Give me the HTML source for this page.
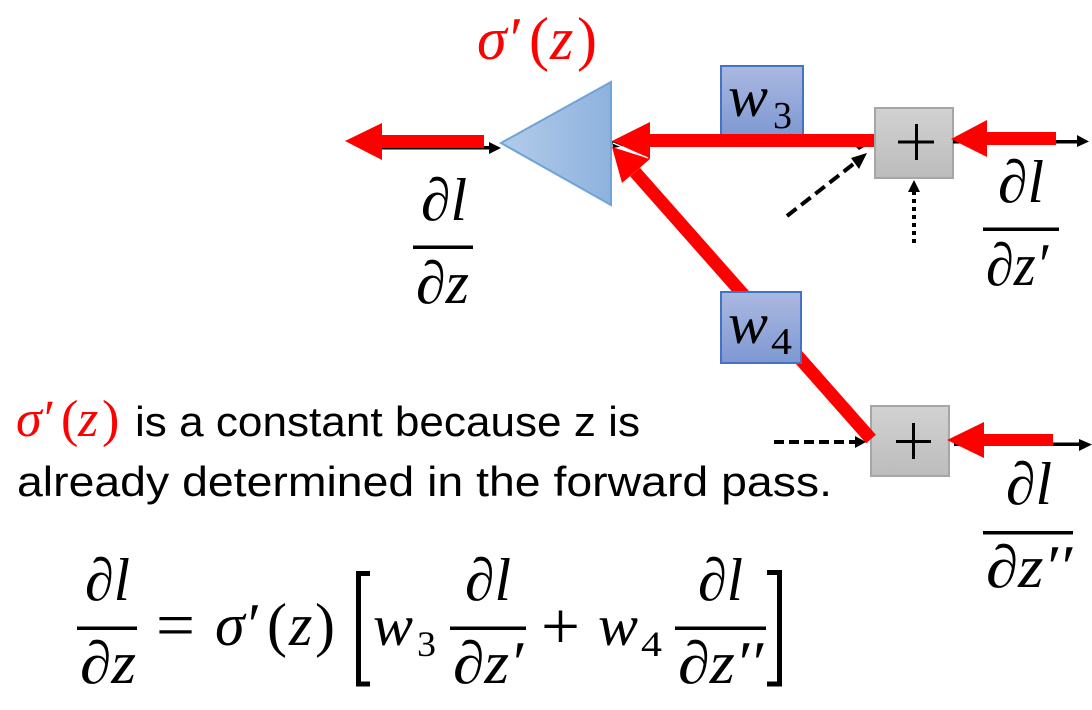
<!DOCTYPE html>
<html><head><meta charset="utf-8"><style>
html,body{margin:0;padding:0;background:#fff}
svg{display:block}
.m{font-family:"Liberation Serif",serif;font-style:italic;fill:#000}
.r{font-family:"Liberation Serif",serif;fill:#000}
.s{font-family:"Liberation Sans",sans-serif;fill:#000;font-size:42px}
.red{fill:#f00}
</style></head><body>
<svg width="1092" height="710" viewBox="0 0 1092 710" xmlns="http://www.w3.org/2000/svg">
<defs>
<linearGradient id="tri" x1="0" x2="1" y1="0" y2="0"><stop offset="0" stop-color="#b3cbe9"/><stop offset="1" stop-color="#8eb2de"/></linearGradient>
<linearGradient id="wb" x1="0" x2="0" y1="0" y2="1"><stop offset="0" stop-color="#abb9e1"/><stop offset="1" stop-color="#7e98d2"/></linearGradient>
<linearGradient id="gb" x1="0" x2="0" y1="0" y2="1"><stop offset="0" stop-color="#d2d2d2"/><stop offset="1" stop-color="#bcbcbc"/></linearGradient>
</defs>

<!-- top-left output arrows -->
<rect x="382" y="146" width="108" height="3.5" fill="#000"/>
<polygon points="501,148 489,142 489,154" fill="#000"/>
<polygon points="345,141 382,123 382,160" fill="#f00"/>
<rect x="381" y="135" width="103" height="13" fill="#f00"/>

<!-- triangle -->
<polygon points="501,143 611,82 611,205" fill="url(#tri)" stroke="#6ea4d8" stroke-width="2"/>

<!-- sigma label -->
<text class="m red" x="477" y="59" font-size="60" style="fill:#f00">σ</text>
<text class="r red" x="510" y="59" font-size="60" style="fill:#f00">′</text>
<text class="r red" x="529" y="59" font-size="60" style="fill:#f00">(</text>
<text class="m red" x="550" y="59" font-size="60" style="fill:#f00">z</text>
<text class="r red" x="577" y="59" font-size="60" style="fill:#f00">)</text>

<!-- w3 -->
<rect x="721" y="66" width="82" height="70" fill="url(#wb)" stroke="#4472c4" stroke-width="2"/>
<text class="m" x="728" y="116" font-size="58" textLength="40" lengthAdjust="spacingAndGlyphs">w</text>
<text class="r" x="773" y="128" font-size="38" textLength="19" lengthAdjust="spacingAndGlyphs">3</text>

<polygon points="612,141 625,146 613,148" fill="#000"/>
<!-- w3 red arrow -->
<polygon points="612,141 650,122 650,159" fill="#f00"/>
<rect x="649" y="134" width="226" height="13" fill="#f00"/>

<!-- diagonal red head -->
<polygon points="612,147 650,159 622,183" fill="#f00"/>
<line x1="613" y1="143" x2="648" y2="158" stroke="#fff" stroke-width="1.3"/>

<!-- plus box 1 -->
<rect x="875" y="108" width="78" height="70" fill="url(#gb)" stroke="#a6a6a6" stroke-width="2"/>
<rect x="898" y="140.500" width="36" height="3" fill="#000"/>
<rect x="915" y="124" width="3" height="36" fill="#000"/>
<!-- right arrow 1 -->
<rect x="953" y="140" width="126" height="3.500" fill="#000"/>
<polygon points="1089,141.500 1077,135 1077,147" fill="#000"/>
<polygon points="951,139 987,120 987,157" fill="#f00"/>
<rect x="986" y="132" width="70" height="13" fill="#f00"/>

<!-- dashed and dotted inputs -->
<line x1="787" y1="216" x2="856" y2="162" stroke="#000" stroke-width="4" stroke-dasharray="12,6"/>
<polygon points="867,153 851,158 859,169" fill="#000"/>
<polygon points="856,147 864,147 859,150" fill="#000"/>
<line x1="914" y1="243" x2="914" y2="192" stroke="#000" stroke-width="4" stroke-dasharray="4,4"/>
<polygon points="914,180 908,192 920,192" fill="#000"/>

<!-- plus box 2 -->
<rect x="871" y="406" width="78" height="70" fill="url(#gb)" stroke="#a6a6a6" stroke-width="2"/>
<rect x="896" y="440" width="35" height="3" fill="#000"/>
<rect x="912" y="423" width="3" height="36" fill="#000"/>
<line x1="774" y1="442" x2="856" y2="442" stroke="#000" stroke-width="4" stroke-dasharray="10,5"/>
<polygon points="866,442 855,436 855,448" fill="#000"/>

<!-- diagonal red shaft -->
<line x1="635" y1="172" x2="871" y2="439" stroke="#f00" stroke-width="13"/>

<!-- w4 -->
<rect x="721" y="292" width="80" height="71" fill="url(#wb)" stroke="#4472c4" stroke-width="2"/>
<text class="m" x="728" y="343" font-size="58" textLength="40" lengthAdjust="spacingAndGlyphs">w</text>
<text class="r" x="771" y="354" font-size="38" textLength="21" lengthAdjust="spacingAndGlyphs">4</text>

<!-- right arrow 2 -->
<rect x="954" y="442.500" width="126" height="3.500" fill="#000"/>
<polygon points="1092,444.500 1079,439 1079,451" fill="#000"/>
<polygon points="947,440 984,422 984,458" fill="#f00"/>
<rect x="983" y="434" width="70" height="12" fill="#f00"/>

<!-- fraction dl/dz top-left -->
<text class="m" x="421" y="220" font-size="60" textLength="46" lengthAdjust="spacingAndGlyphs">∂l</text>
<rect x="413" y="245.500" width="60" height="3.500" fill="#000"/>
<text class="m" x="416" y="303" font-size="60" textLength="53" lengthAdjust="spacingAndGlyphs">∂z</text>

<!-- fraction right 1 -->
<text class="m" x="998" y="202" font-size="60" textLength="46" lengthAdjust="spacingAndGlyphs">∂l</text>
<rect x="983" y="227.500" width="76" height="3.500" fill="#000"/>
<text class="m" x="986" y="285" font-size="60" textLength="62" lengthAdjust="spacingAndGlyphs">∂z′</text>

<!-- fraction right 2 -->
<text class="m" x="1006" y="504" font-size="60" textLength="46" lengthAdjust="spacingAndGlyphs">∂l</text>
<rect x="983" y="531" width="90" height="3.500" fill="#000"/>
<text class="m" x="986" y="587" font-size="60" textLength="86" lengthAdjust="spacingAndGlyphs">∂z′′</text>

<!-- body text -->
<text class="m" x="16" y="436" font-size="52" style="fill:#f00">σ</text>
<text class="r" x="44" y="436" font-size="52" style="fill:#f00">′</text>
<text class="r" x="61" y="436" font-size="52" style="fill:#f00">(</text>
<text class="m" x="78" y="436" font-size="52" style="fill:#f00">z</text>
<text class="r" x="102" y="436" font-size="52" style="fill:#f00">)</text>
<text class="s" x="135" y="436" textLength="505" lengthAdjust="spacingAndGlyphs">is a constant because z is</text>
<text class="s" x="17" y="496" textLength="815" lengthAdjust="spacingAndGlyphs">already determined in the forward pass.</text>

<!-- equation -->
<text class="m" x="85" y="600" font-size="60" textLength="45" lengthAdjust="spacingAndGlyphs">∂l</text>
<rect x="77" y="626.500" width="60" height="3.500" fill="#000"/>
<text class="m" x="80" y="683" font-size="60" textLength="56" lengthAdjust="spacingAndGlyphs">∂z</text>
<text class="r" x="156" y="647" font-size="66" textLength="39" lengthAdjust="spacingAndGlyphs">=</text>
<text class="m" x="215" y="645" font-size="60">σ</text>
<text class="r" x="248" y="645" font-size="60">′</text>
<text class="r" x="267" y="645" font-size="60">(</text>
<text class="m" x="289" y="645" font-size="60">z</text>
<text class="r" x="315" y="645" font-size="60">)</text>
<polyline points="370,573.500 358.500,573.500 358.500,684 370,684" fill="none" stroke="#000" stroke-width="5"/>
<text class="m" x="373" y="645" font-size="58" textLength="40" lengthAdjust="spacingAndGlyphs">w</text>
<text class="r" x="417" y="656" font-size="36" textLength="19" lengthAdjust="spacingAndGlyphs">3</text>
<text class="m" x="465" y="600" font-size="60" textLength="46" lengthAdjust="spacingAndGlyphs">∂l</text>
<rect x="450" y="626.500" width="76" height="3.500" fill="#000"/>
<text class="m" x="453" y="683" font-size="60" textLength="70" lengthAdjust="spacingAndGlyphs">∂z′</text>
<text class="r" x="541" y="649" font-size="68" textLength="39" lengthAdjust="spacingAndGlyphs">+</text>
<text class="m" x="598" y="645" font-size="58" textLength="40" lengthAdjust="spacingAndGlyphs">w</text>
<text class="r" x="641" y="656" font-size="36" textLength="21" lengthAdjust="spacingAndGlyphs">4</text>
<text class="m" x="698" y="600" font-size="60" textLength="45" lengthAdjust="spacingAndGlyphs">∂l</text>
<rect x="675" y="626.500" width="91" height="3.500" fill="#000"/>
<text class="m" x="678" y="683" font-size="60" textLength="85" lengthAdjust="spacingAndGlyphs">∂z′′</text>
<polyline points="767,572.500 779.500,572.500 779.500,684 767,684" fill="none" stroke="#000" stroke-width="5"/>
</svg>
</body></html>
